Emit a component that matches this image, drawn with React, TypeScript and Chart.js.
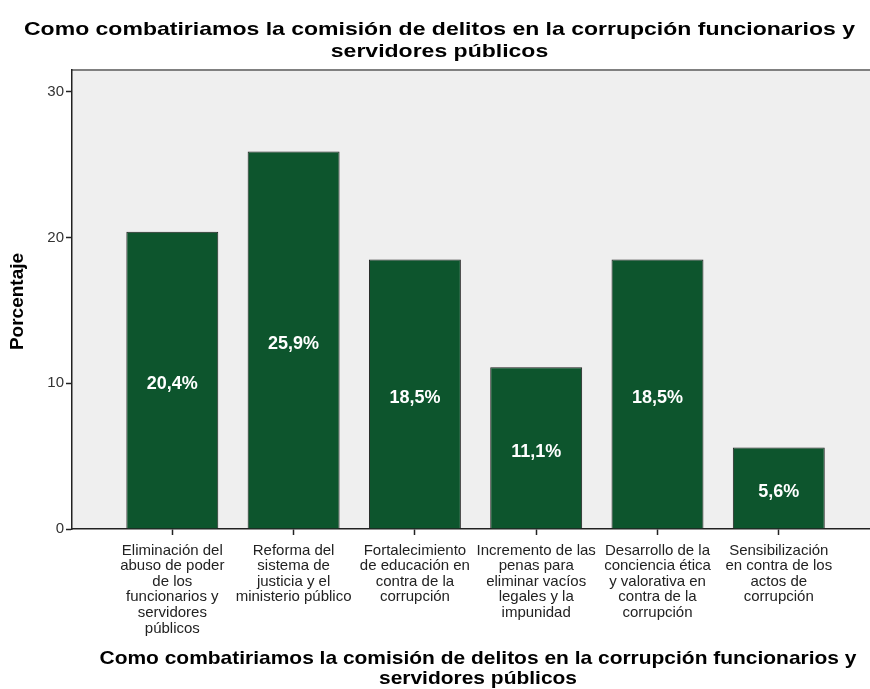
import React, { useEffect, useRef } from "react";
import { Chart, registerables } from "chart.js";

Chart.register(...registerables);

const chartTitle = [
  "Como combatiriamos la comisión de delitos en la corrupción funcionarios y",
  "servidores públicos",
];
const yAxisTitle = "Porcentaje";

const categoryLines: string[][] = [
  ["Eliminación del", "abuso de poder", "de los", "funcionarios y", "servidores", "públicos"],
  ["Reforma del", "sistema de", "justicia y el", "ministerio público"],
  ["Fortalecimiento", "de educación en", "contra de la", "corrupción"],
  ["Incremento de las", "penas para", "eliminar vacíos", "legales y la", "impunidad"],
  ["Desarrollo de la", "conciencia ética", "y valorativa en", "contra de la", "corrupción"],
  ["Sensibilización", "en contra de los", "actos de", "corrupción"],
];
const categoryIndex = [0, 1, 2, 3, 4, 5];
const percentages = [20.4, 25.9, 18.5, 11.1, 18.5, 5.6];
const percentLabels = ["20,4%", "25,9%", "18,5%", "11,1%", "18,5%", "5,6%"];
const yTickValues = [0, 10, 20, 30];

const FONT = "Arial, 'Liberation Sans', Helvetica, sans-serif";

function drawFitted(ctx: CanvasRenderingContext2D, text: string, cx: number, cy: number, sx: number) {
  ctx.save();
  ctx.translate(cx, cy);
  ctx.scale(sx, 1);
  ctx.fillText(text, 0, 0);
  ctx.restore();
}

const decorPlugin = {
  id: "decor",
  beforeDraw(chart: any) {
    const { ctx, chartArea } = chart;
    ctx.save();
    ctx.fillStyle = "#efefef";
    ctx.fillRect(chartArea.left, chartArea.top, chartArea.right - chartArea.left, chartArea.bottom - chartArea.top);
    ctx.strokeStyle = "#808080";
    ctx.lineWidth = 2;
    ctx.beginPath();
    ctx.moveTo(chartArea.left, chartArea.top);
    ctx.lineTo(chartArea.right, chartArea.top);
    ctx.stroke();
    ctx.restore();
  },
  afterDatasetsDraw(chart: any) {
    const { ctx } = chart;
    const meta = chart.getDatasetMeta(0);
    ctx.save();
    ctx.fillStyle = "#ffffff";
    ctx.font = `bold 18px ${FONT}`;
    ctx.textAlign = "center";
    ctx.textBaseline = "middle";
    meta.data.forEach((bar: any, i: number) => {
      const mid = (bar.y + bar.base) / 2 + 4;
      ctx.fillText(percentLabels[i], bar.x, mid);
    });
    ctx.restore();
  },
  afterDraw(chart: any) {
    const { ctx, chartArea } = chart;
    ctx.save();
    ctx.fillStyle = "#000000";
    ctx.textAlign = "center";
    ctx.textBaseline = "alphabetic";
    // main title
    ctx.font = `bold 19px ${FONT}`;
    let w = ctx.measureText(chartTitle[0]).width;
    let sx = 831 / w;
    drawFitted(ctx, chartTitle[0], 439.5, 35, sx);
    drawFitted(ctx, chartTitle[1], 439.5, 56.5, sx);
    // x axis title
    w = ctx.measureText(chartTitle[0]).width;
    sx = 757 / w;
    const cx = (chartArea.left + chartArea.right) / 2 + 7;
    drawFitted(ctx, chartTitle[0], cx, 664, sx);
    drawFitted(ctx, chartTitle[1], cx, 684, sx);
    // y axis title
    ctx.textBaseline = "middle";
    ctx.font = `bold 19px ${FONT}`;
    ctx.translate(18, (chartArea.top + chartArea.bottom) / 2 + 2);
    ctx.rotate(-Math.PI / 2);
    ctx.fillText(yAxisTitle, 0, 0);
    ctx.restore();
  },
};

export default function App() {
  const canvasRef = useRef<HTMLCanvasElement | null>(null);

  useEffect(() => {
    if (!canvasRef.current) return;
    const chart = new Chart(canvasRef.current, {
      type: "bar",
      data: {
        datasets: [
          {
            data: categoryIndex.map((x, i) => ({ x, y: percentages[i] })),
            backgroundColor: "#0d552d",
            borderColor: "#1e1e1e",
            borderWidth: 1,
            categoryPercentage: 1,
            barPercentage: 0.758,
          },
        ],
      },
      options: {
        animation: false,
        responsive: false,
        devicePixelRatio: 1,
        layout: { padding: { top: 70, right: 0, bottom: 0, left: 0 } },
        plugins: {
          legend: { display: false },
          title: { display: false },
          tooltip: { enabled: false },
        },
        scales: {
          x: {
            type: "linear",
            min: -0.827,
            max: 5.752,
            offset: false,
            grid: { display: true, offset: false, drawOnChartArea: false, drawTicks: true, tickLength: 6, tickColor: "#222", tickWidth: 1.5 },
            border: { display: true, color: "#222", width: 1.5 },
            afterBuildTicks: (scale: any) => {
              scale.ticks = categoryIndex.map((v) => ({ value: v }));
            },
            afterFit: (scale: any) => {
              scale.height = 160;
            },
            ticks: {
              autoSkip: false,
              maxRotation: 0,
              minRotation: 0,
              padding: 8,
              color: "#222",
              font: { family: FONT, size: 15, lineHeight: 1.035 },
              callback: (value: any) => categoryLines[Math.round(Number(value))] || "",
            },
          },
          y: {
            type: "linear",
            min: 0,
            max: 31.5,
            grid: { display: true, drawOnChartArea: false, drawTicks: true, tickLength: 6, tickColor: "#222", tickWidth: 1.5 },
            border: { display: true, color: "#222", width: 1.5 },
            afterBuildTicks: (scale: any) => {
              scale.ticks = yTickValues.map((v) => ({ value: v }));
            },
            afterFit: (scale: any) => {
              scale.width = 72;
            },
            ticks: {
              padding: 2,
              color: "#333",
              font: { family: FONT, size: 15 },
            },
          },
        },
      } as any,
      plugins: [decorPlugin],
    });
    return () => chart.destroy();
  }, []);

  return (
    <div style={{ position: "absolute", left: 0, top: 0, width: 870, height: 689, background: "#fff" }}>
      <canvas ref={canvasRef} width={870} height={689} style={{ display: "block" }} />
    </div>
  );
}
